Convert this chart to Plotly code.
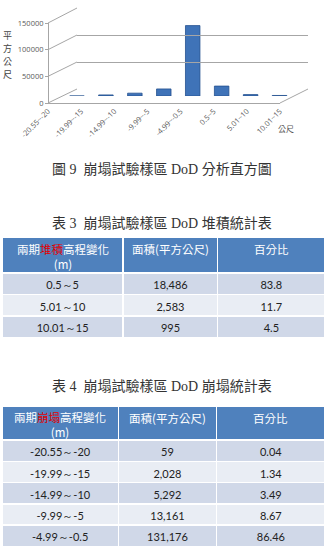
import plotly.graph_objects as go

# ---------------- data ----------------
chart_categories = ["-20.55~-20", "-19.99~-15", "-14.99~-10", "-9.99~-5",
                    "-4.99~-0.5", "0.5~5", "5.01~10", "10.01~15"]
chart_values = [59, 2028, 5292, 13161, 131176, 18486, 2583, 995]
y_ticks = [0, 50000, 100000, 150000]
y_title = "平方公尺"

dep_ranges = ["0.5～5", "5.01～10", "10.01～15"]
dep_area = [18486, 2583, 995]
dep_pct = [83.8, 11.7, 4.5]

ero_ranges = ["-20.55～-20", "-19.99～-15", "-14.99～-10", "-9.99～-5", "-4.99～-0.5"]
ero_area = [59, 2028, 5292, 13161, 131176]
ero_pct = [0.04, 1.34, 3.49, 8.67, 86.46]

dep_headers = ['兩期<span style="color:#E00000">堆積</span>高程變化<br>(m)', "面積(平方公尺)", "百分比"]
ero_headers = ['兩期<span style="color:#E00000">崩塌</span>高程變化<br>(m)', "面積(平方公尺)", "百分比"]

W, H = 325, 549


def px_x(p):
    return p / W


def px_y(p):
    return 1 - p / H


# pixel geometry of the pseudo 3D chart
front = dict(x0=48, x1=280, y0=103, y1=23)   # front plane (labels)
back = dict(x0=77, x1=308, y0=89, y1=8)      # back wall
mid = dict(x0=62.5, x1=294, y0=96, y1=15.5)  # bars plane

fig = go.Figure()

fig.add_trace(go.Bar(
    x=chart_categories, y=chart_values, width=0.5,
    marker=dict(color="#3F73B8", line=dict(color="#24508F", width=0.8)),
    xaxis="x", yaxis="y", showlegend=False, hoverinfo="x+y"))
fig.add_trace(go.Scatter(x=chart_categories, y=chart_values, mode="none",
                         xaxis="x2", yaxis="y2", showlegend=False, hoverinfo="skip"))
fig.add_trace(go.Scatter(x=chart_categories, y=chart_values, mode="none",
                         xaxis="x3", yaxis="y3", showlegend=False, hoverinfo="skip"))

ymax = y_ticks[-1]
hidden = dict(showgrid=False, showline=False, zeroline=False, showticklabels=False, ticks="",
              automargin=False)
AX = "#A6A6A6"

fig.update_layout(
    xaxis=dict(domain=[px_x(mid["x0"]), px_x(mid["x1"])], anchor="y", **hidden),
    yaxis=dict(domain=[px_y(mid["y0"]), px_y(mid["y1"])], anchor="x", range=[0, ymax], **hidden),
    xaxis2=dict(domain=[px_x(back["x0"]), px_x(back["x1"])], anchor="y2", **hidden),
    yaxis2=dict(domain=[px_y(back["y0"]), px_y(back["y1"])], anchor="x2", range=[0, ymax],
                tickvals=y_ticks, showgrid=True, gridcolor=AX, gridwidth=1, automargin=False,
                showline=False, zeroline=False, showticklabels=False, ticks=""),
    xaxis3=dict(domain=[px_x(front["x0"]), px_x(front["x1"])], anchor="y3", automargin=False,
                showgrid=False, zeroline=False, showline=True, linecolor=AX, linewidth=1,
                tickangle=-45, ticks="", tickfont=dict(size=7.5, color="#595959", family="Open Sans")),
    yaxis3=dict(domain=[px_y(front["y0"]), px_y(front["y1"])], anchor="free", automargin=False,
                position=px_x(front["x0"]), range=[0, ymax], tickvals=y_ticks, tickformat="d",
                showgrid=False, zeroline=False, showline=True, linecolor=AX, linewidth=1,
                ticks="outside", ticklen=3, tickcolor=AX,
                tickfont=dict(size=7.5, color="#595959", family="Open Sans")),
    width=W, height=H, margin=dict(l=0, r=0, t=0, b=0, pad=0, autoexpand=False),
    paper_bgcolor="white", plot_bgcolor="rgba(0,0,0,0)",
)

# perspective connector lines (derived from the axis geometry)
shapes = []
for v in y_ticks:
    f = v / ymax
    yf = front["y0"] + (front["y1"] - front["y0"]) * f
    yb = back["y0"] + (back["y1"] - back["y0"]) * f
    shapes.append(dict(type="line", xref="paper", yref="paper",
                       x0=px_x(front["x0"]), y0=px_y(yf), x1=px_x(back["x0"]), y1=px_y(yb),
                       line=dict(color=AX, width=1)))
shapes.append(dict(type="line", xref="paper", yref="paper",
                   x0=px_x(front["x1"]), y0=px_y(front["y0"]), x1=px_x(back["x1"]), y1=px_y(back["y0"]),
                   line=dict(color=AX, width=1)))
fig.update_layout(shapes=shapes)


def ann(text, x, y, font, **kw):
    d = dict(text=text, x=px_x(x), y=px_y(y), xref="paper", yref="paper", showarrow=False,
             xanchor="center", yanchor="middle", font=font)
    d.update(kw)
    return d


cap_font = dict(family="Liberation Serif, Noto Sans CJK TC", size=14, color="#333333")
title_font = dict(family="Noto Sans CJK TC", size=9, color="#444444")
annotations = []
# stacked vertical axis title, one character per annotation
for i, ch in enumerate(y_title):
    annotations.append(ann(ch, 7, 36 + 12.8 * i, title_font))
annotations += [
    ann("公尺", 286, 128, dict(family="Noto Sans CJK TC", size=8, color="#595959")),
    ann("圖 9  崩塌試驗樣區 DoD 分析直方圖", 162, 169, cap_font),
    ann("表 3  崩塌試驗樣區 DoD 堆積統計表", 162, 223, cap_font),
    ann("表 4  崩塌試驗樣區 DoD 崩塌統計表", 162, 386, cap_font),
]

HEAD = "#4F81BD"
DARK = "#D0D8E8"
LIGHT = "#E9EDF4"
head_font = dict(family="Noto Sans CJK TC", size=11.5, color="white")
cell_font = dict(family="Lato, Open Sans", size=11, color="#222222")


def row_fills(n):
    return [DARK if i % 2 == 0 else LIGHT for i in range(n)]


def add_table(headers, cols, fmts, colw, top, head_h, row_h, first_line_y, bottom):
    x0 = 2
    fig.add_trace(go.Table(
        domain=dict(x=[px_x(x0), 1], y=[px_y(bottom), px_y(top)]),
        columnwidth=colw,
        header=dict(values=["", "", ""], fill_color=HEAD, height=head_h,
                    line=dict(color="white", width=1.5)),
        cells=dict(values=cols, format=fmts,
                   fill_color=[row_fills(len(cols[0]))] * 3, font=cell_font, align="center",
                   height=row_h, line=dict(color="white", width=1.5)),
    ))
    # header texts placed over the header band
    tot = sum(colw)
    avail = W - x0
    left = x0
    for h, w in zip(headers, colw):
        cw = avail * w / tot
        cx = left + cw / 2
        if "<br>" in h:
            annotations.append(ann(h, cx, top + head_h / 2 + 1, head_font))
        else:
            annotations.append(ann(h, cx, first_line_y, head_font))
        left += cw


add_table(dep_headers, [dep_ranges, dep_area, dep_pct], [None, ",d", ".1f"],
          [122, 95, 108], 237, 36, 21.5, 249, 342)
add_table(ero_headers, [ero_ranges, ero_area, ero_pct], [None, ",d", ".2f"],
          [117, 99, 109], 406, 34, 21.3, 418, 549)

fig.update_layout(annotations=annotations)
fig.write_html("out.html")
